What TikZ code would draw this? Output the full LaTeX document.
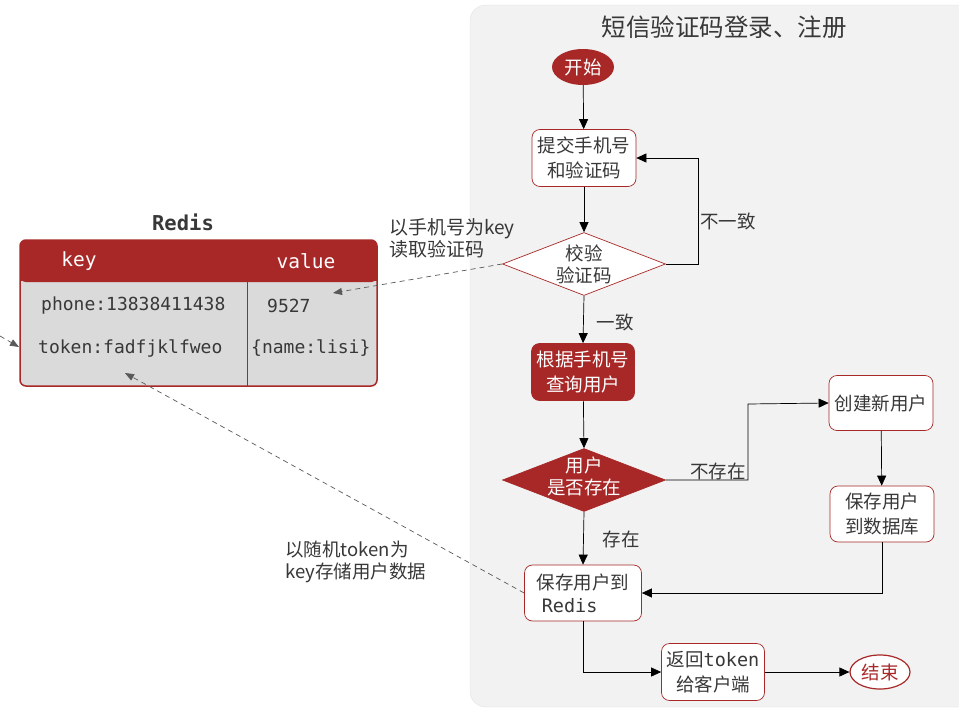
\documentclass[tikz,border=0pt]{standalone}
\usepackage{fontspec}
\setmainfont{Noto Sans CJK SC}
\newfontfamily\monof{DejaVu Sans Mono}
\usetikzlibrary{shapes.geometric,arrows.meta}
\definecolor{rd}{HTML}{A82828}
\definecolor{txt}{HTML}{383838}
\definecolor{panel}{HTML}{F2F2F2}
\definecolor{panelb}{HTML}{E2E2E2}
\definecolor{tbl}{HTML}{DADADA}
\begin{document}
\begin{tikzpicture}[x=1pt,y=-1pt,
  box/.style={draw=rd, fill=white, rounded corners=8pt, align=center, text=txt,
    font=\fontsize{18.5}{25}\selectfont, inner sep=0pt, line width=0.7pt},
  redbox/.style={box, fill=rd, text=white},
  dia/.style={diamond, draw=rd, fill=white, inner sep=0pt, line width=0.7pt,
    minimum width=163pt, minimum height=63pt},
  dtext/.style={align=center, font=\fontsize{18.5}{22}\selectfont, text=txt, inner sep=0pt},
  lbl/.style={font=\fontsize{18.5}{22}\selectfont, text=txt, inner sep=0pt, align=left},
  flow/.style={draw=black, line width=0.7pt, -{Triangle[length=10pt,width=9pt]}},
  dashline/.style={draw=black!65, line width=0.7pt, dash pattern=on 5pt off 4pt,
    -{Triangle[length=9pt,width=7pt]}},
  cell/.style={font=\monof\fontsize{18}{20}\selectfont, text=txt, inner sep=0pt, anchor=west}
]
\useasboundingbox (0,0) rectangle (959,712);
\fill[white] (0,0) rectangle (959,712);
% panel
\path[fill=panel, draw=panelb, rounded corners=16pt] (470,5) rectangle (990,707);
\node[font=\fontsize{24.5}{28}\selectfont, text=txt, inner sep=0pt] (title) at (724,27) {短信验证码登录、注册};

% flow nodes
\node[ellipse, fill=rd, text=white, minimum width=62pt, minimum height=36pt, inner sep=0pt,
  font=\fontsize{18.5}{20}\selectfont] (start) at (583,67) {开始};
\node[box, minimum width=104pt, minimum height=57pt] (submit) at (584,158) {提交手机号\\和验证码};
\node[dia] (check) at (584,264) {};
\node[dtext] (checkt) at (584,264) {校验\\验证码};
\node[redbox, minimum width=103pt, minimum height=57pt] (query) at (583,372) {根据手机号\\查询用户};
\node[dia, fill=rd] (exists) at (584,480) {};
\node[dtext, text=white] (existst) at (584,476) {用户\\是否存在};
\node[box, minimum width=104pt, minimum height=55pt] (create) at (881,403) {创建新用户};
\node[box, minimum width=104pt, minimum height=56pt] (savedb) at (882,514) {保存用户\\到数据库};
\node[box, minimum width=117pt, minimum height=56pt, align=left,
  font=\fontsize{18.5}{23}\selectfont] (saveredis) at (583,593) {保存用户到\\\hspace*{5pt}{\monof Redis}};
\node[box, minimum width=103pt, minimum height=57pt] (ret) at (713,672) {返回{\monof token}\\给客户端};
\node[ellipse, draw=rd, fill=white, text=rd, line width=1.2pt, minimum width=60pt,
  minimum height=34pt, inner sep=0pt, font=\fontsize{18.5}{20}\selectfont] (end) at (880,672) {结束};

% flow edges
\draw[flow] (start) -- (submit);
\draw[flow] (submit) -- (check);
\draw[flow] (check.east) -- (698,264) -- (698,158) -- (submit.east);
\node[lbl] (l1) at (728,221) {不一致};
\draw[flow] (check.south) -- (query.north);
\node[lbl] (l2) at (615,322) {一致};
\draw[flow] (query) -- (exists.north);
\draw[flow] (exists.east) -- (748,480) -- (748,404) -- (create.west);
\node[lbl] (l3) at (718,471) {不存在};
\draw[flow] (create) -- (savedb);
\draw[flow] (exists.south) -- (saveredis.north);
\node[lbl] (l4) at (621,539) {存在};
\draw[flow] (savedb.south) -- (882,593) -- (saveredis.east);
\draw[flow] (saveredis.south) -- (583,672) -- (ret.west);
\draw[flow] (ret.east) -- (end.west);

% Redis table
\node[font=\monof\bfseries\fontsize{20.5}{24}\selectfont, text=txt, inner sep=0pt] (rtitle) at (183,222) {Redis};
\node[fill=tbl, rounded corners=6pt, minimum width=357pt, minimum height=146pt, inner sep=0pt] (redis) at (198.5,313) {};
\fill[rd, rounded corners=6pt] (20,240) rectangle (377,282);
\fill[rd] (20,268) rectangle (377,281);
\draw[rd, line width=1.5pt, rounded corners=6pt] (20,240) rectangle (377,386);
\draw[rd, line width=0.8pt] (247,281) -- (247,386);
\node[font=\monof\fontsize{19.5}{22}\selectfont, text=white, inner sep=0pt] (hk) at (79,261) {key};
\node[font=\monof\fontsize{19.5}{22}\selectfont, text=white, inner sep=0pt] (hv) at (306,261) {value};
\node[cell] (k1) at (41,306) {phone:13838411438};
\node[cell] (v1) at (267,306) {9527};
\node[cell] (k2) at (38,348) {token:fadfjklfweo};
\node[cell] (v2) at (251,348) {\{name:lisi\}};

% dashed connections
\coordinate (tip1) at (333,293);
\coordinate (tip2) at (125,373);
\coordinate (lft) at (0,336);
\coordinate (tip3) at (19,347);
\draw[dashline] (check.west) -- (tip1);
\node[lbl, anchor=north west, font=\fontsize{19}{22}\selectfont] (d1) at (389,218) {以手机号为key\\读取验证码};
\draw[dashline] (saveredis.west) -- (tip2);
\node[lbl, anchor=north west, font=\fontsize{18.5}{22}\selectfont] (d2) at (285,541) {以随机token为\\key存储用户数据};
\draw[dashline] (lft) -- (tip3);
\end{tikzpicture}
\end{document}
